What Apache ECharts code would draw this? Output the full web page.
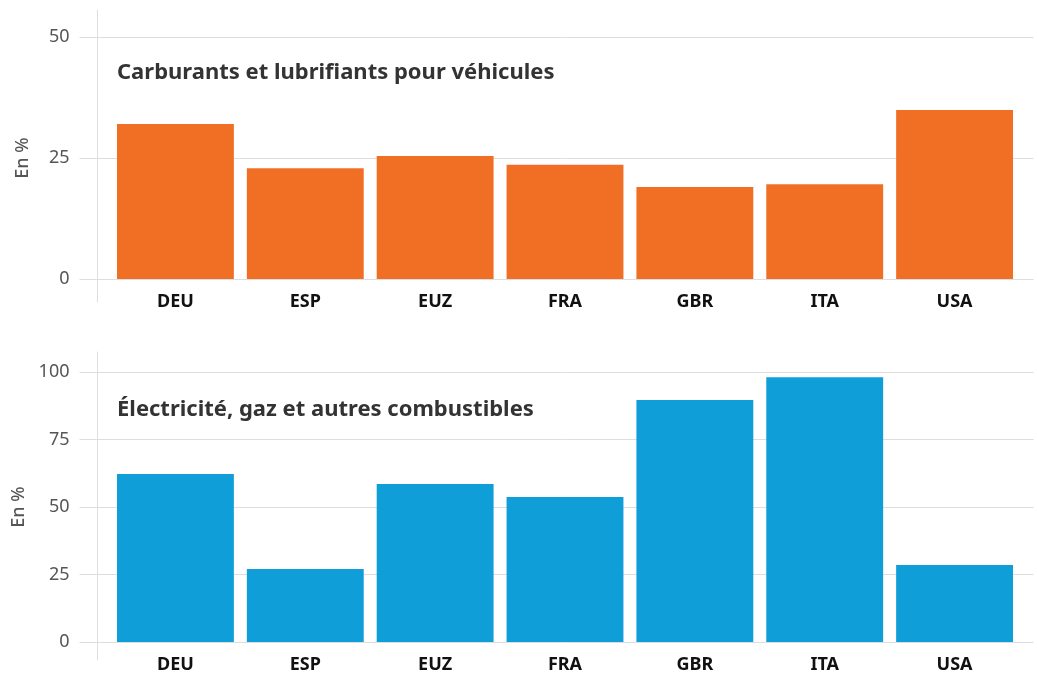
<!DOCTYPE html>
<html>
<head>
<meta charset="utf-8">
<style>
    html, body { margin: 0; padding: 0; background: #fff; }
    #echarts { width: 1037px; height: 675px; }
</style>
</head>
<body>
<div id="echarts"></div>
<script src="https://cdn.jsdelivr.net/npm/echarts@6/dist/echarts.min.js"></script>
<script>
    // données
    const pays = ['DEU', 'ESP', 'EUZ', 'FRA', 'GBR', 'ITA', 'USA'];
    const carburants = [32.0, 22.9, 25.4, 23.6, 19.0, 19.6, 34.9];
    const electricite = [62.2, 27.0, 58.5, 53.7, 89.6, 98.1, 28.5];
    const titreHaut = 'Carburants et lubrifiants pour véhicules';
    const titreBas = 'Électricité, gaz et autres combustibles';
    const ticksHaut = [0, 25, 50];
    const ticksBas = [0, 25, 50, 75, 100];

    const font = '"Noto Sans", sans-serif';
    const gris = '#dedede';

    let myChart = echarts.init(document.getElementById('echarts'));

    // axe y "cadre" : grille + libellés
    function cadreY(idx, ticks) {
        return {
            gridIndex: idx, type: 'value',
            min: ticks[0], max: ticks[ticks.length - 1], interval: 25,
            name: 'En %', nameLocation: 'middle', nameGap: 66, nameRotate: 90,
            nameTextStyle: {color: '#555', fontSize: 18, fontFamily: font, fontWeight: 500},
            axisLine: {show: false},
            axisTick: {show: true, length: 18, lineStyle: {color: gris}},
            splitLine: {lineStyle: {color: gris, width: 1}},
            axisLabel: {color: '#555', fontSize: 18, fontFamily: font, margin: 28}
        };
    }

    function barreY(idx, ticks) {
        return {gridIndex: idx, type: 'value', min: ticks[0], max: ticks[ticks.length - 1], show: false};
    }

    function ligneY(idx) {
        return {
            gridIndex: idx, type: 'value', min: 0, max: 1,
            axisLine: {show: true, lineStyle: {color: gris}},
            axisTick: {show: false}, axisLabel: {show: false}, splitLine: {show: false}
        };
    }

    function barreX(idx) {
        return {
            gridIndex: idx, type: 'category', data: pays,
            axisLine: {show: false}, axisTick: {show: false},
            axisLabel: {color: '#111', fontSize: 18, fontWeight: 'bold', fontFamily: font, margin: 14}
        };
    }

    function videX(idx) {
        return {gridIndex: idx, type: 'value', show: false, min: 0, max: 1};
    }

    let option = {
        animation: false,
        backgroundColor: '#fff',
        title: [
            {text: titreHaut, left: 117, top: 62, padding: 0, textStyle: {color: '#333', fontSize: 22, fontWeight: 'bold', fontFamily: font}},
            {text: titreBas, left: 117, top: 399, padding: 0, textStyle: {color: '#333', fontSize: 22, fontWeight: 'bold', fontFamily: font}}
        ],
        grid: [
            {left: 97.5, width: 936, top: 37, height: 242},
            {left: 110.5, width: 909, top: 37, height: 242},
            {left: 97.5, width: 936, top: 10, height: 292},
            {left: 97.5, width: 936, top: 372, height: 270},
            {left: 110.5, width: 909, top: 372, height: 270},
            {left: 97.5, width: 936, top: 352, height: 308}
        ],
        xAxis: [videX(0), barreX(1), videX(2), videX(3), barreX(4), videX(5)],
        yAxis: [cadreY(0, ticksHaut), barreY(1, ticksHaut), ligneY(2),
                cadreY(3, ticksBas), barreY(4, ticksBas), ligneY(5)],
        series: [
            {type: 'bar', xAxisIndex: 1, yAxisIndex: 1, data: carburants, barWidth: '90%',
             itemStyle: {color: '#F16F24'}},
            {type: 'bar', xAxisIndex: 4, yAxisIndex: 4, data: electricite, barWidth: '90%',
             itemStyle: {color: '#109ED9'}}
        ]
    };

    myChart.setOption(option);
</script>
</body>
</html>
